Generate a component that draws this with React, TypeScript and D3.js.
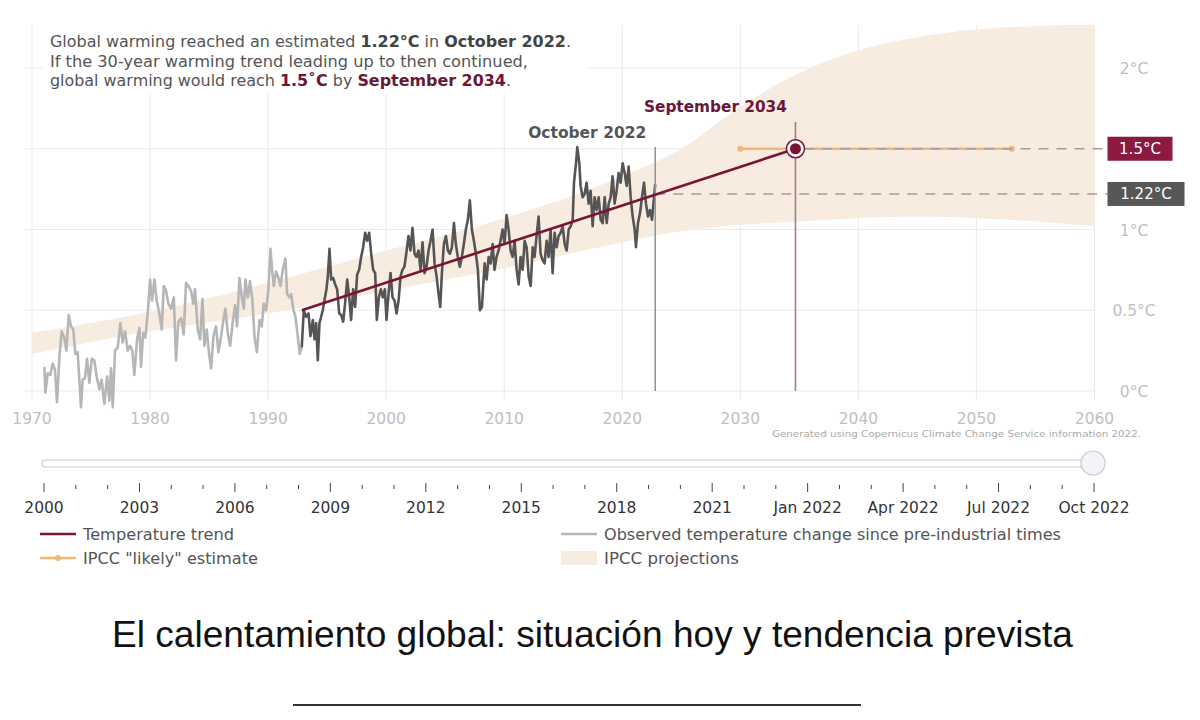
import React from "react";
import * as d3 from "d3";

// ---------- DATA ----------
const obsYears = [
  1971.05, 1971.13, 1971.33, 1971.55, 1971.75, 1971.95, 1972.12, 1972.32, 1972.51, 1972.74, 1972.91,
  1973.11, 1973.31, 1973.5, 1973.67, 1973.87, 1974.15, 1974.29, 1974.49, 1974.66, 1974.86,
  1975.06, 1975.28, 1975.48, 1975.71, 1975.9, 1976.13, 1976.36, 1976.55, 1976.69, 1976.84,
  1977.03, 1977.26, 1977.49, 1977.68, 1977.88, 1978.11, 1978.31, 1978.5, 1978.67, 1978.9,
  1979.1, 1979.24, 1979.41, 1979.6, 1979.8, 1980.0, 1980.17, 1980.37, 1980.56, 1980.79, 1980.99,
  1981.16, 1981.36, 1981.55, 1981.78, 1982.01, 1982.2, 1982.4, 1982.63, 1982.85,
  1983.05, 1983.25, 1983.47, 1983.67, 1983.81, 1984.04, 1984.24, 1984.44, 1984.6, 1984.8,
  1985.0, 1985.17, 1985.37, 1985.59, 1985.79, 1986.02, 1986.21, 1986.38, 1986.58, 1986.78,
  1987.01, 1987.2, 1987.37, 1987.57, 1987.77, 1987.94, 1988.08, 1988.28, 1988.47, 1988.67, 1988.84,
  1989.05, 1989.27, 1989.46, 1989.63, 1989.83, 1990.03, 1990.2, 1990.34, 1990.48, 1990.68, 1990.88,
  1991.05, 1991.24, 1991.47, 1991.61, 1991.81, 1991.95, 1992.15, 1992.32, 1992.51, 1992.68, 1992.85,
  1993.02, 1993.22, 1993.42, 1993.59, 1993.79, 1993.93, 1994.07, 1994.21, 1994.35, 1994.49, 1994.63, 1994.77, 1994.94,
  1995.06, 1995.2, 1995.34, 1995.51, 1995.68, 1995.85, 1996.02, 1996.19, 1996.36, 1996.53, 1996.7, 1996.87,
  1997.03, 1997.2, 1997.37, 1997.54, 1997.71, 1997.88, 1998.05, 1998.22, 1998.39, 1998.56, 1998.73, 1998.9,
  1999.07, 1999.21, 1999.38, 1999.55, 1999.72, 1999.89, 2000.03, 2000.2, 2000.37, 2000.54, 2000.71, 2000.88,
  2001.05, 2001.22, 2001.38, 2001.55, 2001.72, 2001.89, 2002.06, 2002.23, 2002.4, 2002.57, 2002.74, 2002.91,
  2003.08, 2003.25, 2003.42, 2003.59, 2003.76, 2003.93, 2004.1, 2004.27, 2004.44, 2004.58, 2004.72, 2004.89,
  2005.06, 2005.23, 2005.4, 2005.57, 2005.74, 2005.9, 2006.07, 2006.24, 2006.41, 2006.58, 2006.75, 2006.92,
  2007.09, 2007.26, 2007.43, 2007.6, 2007.77, 2007.94, 2008.11, 2008.34, 2008.51, 2008.68, 2008.85,
  2009.02, 2009.18, 2009.35, 2009.52, 2009.69, 2009.86, 2010.03, 2010.2, 2010.37, 2010.54, 2010.71, 2010.88,
  2011.05, 2011.22, 2011.39, 2011.56, 2011.73, 2011.9, 2012.07, 2012.24, 2012.41, 2012.57, 2012.74, 2012.91,
  2013.08, 2013.25, 2013.42, 2013.59, 2013.76, 2013.93, 2014.1, 2014.27, 2014.44, 2014.61, 2014.78, 2014.95,
  2015.12, 2015.29, 2015.46, 2015.63, 2015.8, 2015.91, 2016.08, 2016.19, 2016.36, 2016.47, 2016.64, 2016.81, 2016.98,
  2017.15, 2017.32, 2017.49, 2017.66, 2017.83, 2018.0, 2018.17, 2018.34, 2018.51, 2018.68, 2018.85,
  2019.02, 2019.18, 2019.35, 2019.52, 2019.69, 2019.86, 2020.03, 2020.2, 2020.37, 2020.54, 2020.71, 2020.88,
  2021.05, 2021.16, 2021.33, 2021.5, 2021.67, 2021.84, 2022.01, 2022.18, 2022.35, 2022.52, 2022.69, 2022.79,
];
const obsValues = [
  0.15, -0.01, 0.11, 0.1, 0.17, 0.13, -0.07, 0.21, 0.37, 0.33, 0.25,
  0.47, 0.4, 0.38, 0.23, 0.24, -0.1, 0.07, 0.08, 0.2, 0.05,
  0.2, 0.19, 0.09, 0.01, 0.07, -0.08, 0.09, -0.06, 0.14, -0.1,
  0.25, 0.27, 0.42, 0.3, 0.37, 0.25, 0.28, 0.25, 0.1, 0.32,
  0.39, 0.15, 0.36, 0.33, 0.48, 0.69, 0.56, 0.69, 0.56, 0.48, 0.38,
  0.65, 0.62, 0.54, 0.51, 0.58, 0.19, 0.43, 0.45, 0.35,
  0.67, 0.65, 0.62, 0.54, 0.63, 0.38, 0.32, 0.57, 0.28, 0.38,
  0.23, 0.14, 0.34, 0.4, 0.24, 0.34, 0.44, 0.51, 0.36, 0.28,
  0.43, 0.53, 0.4, 0.7, 0.58, 0.51, 0.69, 0.58, 0.68, 0.56, 0.34,
  0.24, 0.44, 0.4, 0.54, 0.5, 0.63, 0.88, 0.75, 0.65, 0.74, 0.7,
  0.65, 0.75, 0.82, 0.6, 0.58, 0.6, 0.5, 0.46, 0.34, 0.23, 0.27,
  0.5, 0.46, 0.48, 0.34, 0.44, 0.32, 0.42, 0.19, 0.42, 0.46, 0.5, 0.56, 0.63,
  0.71, 0.88, 0.69, 0.7, 0.66, 0.63, 0.48, 0.47, 0.43, 0.55, 0.69, 0.58,
  0.44, 0.63, 0.52, 0.72, 0.75, 0.83, 0.89, 0.98, 0.93, 0.98, 0.85, 0.75,
  0.73, 0.44, 0.58, 0.63, 0.58, 0.63, 0.44, 0.6, 0.73, 0.58, 0.56, 0.48,
  0.56, 0.71, 0.75, 0.77, 0.86, 0.96, 0.87, 1.01, 0.85, 0.83, 0.87, 0.75,
  0.92, 0.73, 0.77, 0.87, 0.93, 1.0, 0.79, 0.71, 0.6, 0.52, 0.73, 0.91,
  0.96, 0.87, 0.85, 0.89, 1.04, 0.91, 0.83, 0.77, 0.83, 0.91, 1.0, 1.06,
  1.18, 1.0, 0.93, 0.85, 0.75, 0.5, 0.52, 0.79, 0.69, 0.83, 0.79,
  0.91, 0.75, 0.83, 0.87, 0.93, 1.0, 0.91, 1.09, 1.0, 0.87, 0.83, 0.93,
  0.75, 0.66, 0.83, 0.75, 0.93, 0.89, 0.71, 0.65, 0.89, 0.83, 0.96, 1.08,
  0.85, 0.81, 0.79, 0.93, 0.83, 1.0, 0.73, 0.98, 0.89, 0.96, 0.98, 1.02,
  0.91, 0.87, 1.0, 1.02, 1.06, 1.29, 1.41, 1.51, 1.41, 1.27, 1.2, 1.22, 1.29,
  1.16, 1.24, 1.02, 1.2, 1.12, 1.2, 1.06, 1.04, 1.2, 1.04, 1.16,
  1.2, 1.33, 1.16, 1.24, 1.35, 1.29, 1.41, 1.35, 1.27, 1.39, 1.2, 1.08,
  1.0, 0.89, 1.04, 1.1, 1.2, 1.29, 1.16, 1.08, 1.12, 1.06, 1.2, 1.28,
];
const trendStartYear = 1992.85; // observed line turns dark from here
const trendYears = [1992.85, 2034.67];
const trendValues = [0.5, 1.5];

const bandYears = [1970, 1980, 1990, 2000, 2010, 2020, 2025, 2030, 2035, 2040, 2045, 2050, 2055, 2060];
const bandLow = [0.23, 0.37, 0.48, 0.62, 0.76, 0.92, 0.99, 1.03, 1.05, 1.07, 1.08, 1.07, 1.05, 1.02];
const bandHigh = [0.36, 0.49, 0.67, 0.87, 1.07, 1.33, 1.5, 1.76, 1.97, 2.11, 2.19, 2.24, 2.26, 2.27];

const likelyYears = [2030, 2053];
const likelyValue = 1.5;
const currentYear = 2022.79;
const currentValue = 1.22;
const crossYear = 2034.67;
const crossValue = 1.5;

const xTicks = [1970, 1980, 1990, 2000, 2010, 2020, 2030, 2040, 2050, 2060];
const yTicks = [0, 0.5, 1, 1.5, 2];
const yTickLabels = ["0°C", "0.5°C", "1°C", "", "2°C"];
const sliderLabels = ["2000", "2003", "2006", "2009", "2012", "2015", "2018", "2021", "Jan 2022", "Apr 2022", "Jul 2022", "Oct 2022"];

// ---------- STYLE ----------
const FONT = "'DejaVu Sans', Verdana, sans-serif";
const RED = "#7a1435";
const DARKRED_TXT = "#6a1838";
const GRAY_DARK = "#555555";
const GRAY_LIGHT = "#b6b6b6";
const BAND = "#f8ebe0";
const ORANGE = "#f2b878";

export default function App() {
  const x = d3.scaleLinear().domain([1970, 2060]).range([32, 1094.5]);
  const y = d3.scaleLinear().domain([0, 2]).range([391, 68]);

  const obs = obsYears.map((yr, i) => [yr, obsValues[i]] as [number, number]);
  const early = obs.filter((d) => d[0] <= trendStartYear);
  const late = obs.filter((d) => d[0] >= trendStartYear);
  const line = d3.line<[number, number]>().x((d) => x(d[0])).y((d) => y(d[1]));
  const band = d3
    .area<number>()
    .x((d, i) => x(bandYears[i]))
    .y0((d, i) => y(bandLow[i]))
    .y1((d, i) => y(bandHigh[i]))
    .curve(d3.curveMonotoneX);
  const trend = trendYears.map((yr, i) => [yr, trendValues[i]] as [number, number]);

  const sx = d3.scalePoint<string>().domain(sliderLabels).range([44, 1094]);
  const step = sx.step();
  const minorTicks: number[] = [];
  sliderLabels.slice(0, -1).forEach((l) => {
    const p = sx(l)!;
    minorTicks.push(p + step / 3, p + (2 * step) / 3);
  });

  const right = x(2060);
  const labelX = right + 13;

  return (
    <svg width={1200} height={720} style={{ position: "absolute", left: 0, top: 0, background: "#fff" }} fontFamily={FONT}>
      <defs>
        <clipPath id="plotClip">
          <rect x={0} y={25} width={right + 1} height={400} />
        </clipPath>
      </defs>
      {/* gridlines */}
      {xTicks.map((t) => (
        <line key={"gx" + t} x1={x(t)} x2={x(t)} y1={25} y2={400} stroke="#ebebeb" strokeWidth={1} />
      ))}
      {yTicks.map((t) => (
        <line key={"gy" + t} x1={25} x2={right} y1={y(t)} y2={y(t)} stroke="#ebebeb" strokeWidth={1} />
      ))}
      {/* band */}
      <path d={band(bandYears) || ""} fill={BAND} clipPath="url(#plotClip)" />

      {/* annotation box */}
      <rect x={43} y={26} width={543} height={68} fill="#fff" />
      <g fontSize={15} fill="#555">
        <text x={50} y={47} textLength={521} lengthAdjust="spacingAndGlyphs">
          Global warming reached an estimated <tspan fontWeight="bold" fill="#444">1.22°C</tspan> in{" "}
          <tspan fontWeight="bold" fill="#444">October 2022</tspan>.
        </text>
        <text x={50} y={67} textLength={478} lengthAdjust="spacingAndGlyphs">
          If the 30-year warming trend leading up to then continued,
        </text>
        <text x={50} y={86} textLength={461} lengthAdjust="spacingAndGlyphs">
          global warming would reach <tspan fontWeight="bold" fill={DARKRED_TXT}>1.5˚C</tspan> by{" "}
          <tspan fontWeight="bold" fill={DARKRED_TXT}>September 2034</tspan>.
        </text>
      </g>

      {/* axis labels */}
      {xTicks.map((t) => (
        <text key={"xl" + t} x={x(t)} y={424} textAnchor="middle" fontSize={15.5} fill="#c0c0c0">
          {t}
        </text>
      ))}
      {yTicks.map((t, i) =>
        yTickLabels[i] ? (
          <text key={"yl" + t} x={1134} y={y(t) + 6} textAnchor="middle" fontSize={15.5} fill="#c0c0c0">
            {yTickLabels[i]}
          </text>
        ) : null
      )}

      {/* observed */}
      <path d={line(early) || ""} fill="none" stroke={GRAY_LIGHT} strokeWidth={2.6} strokeLinejoin="round" />
      <path d={line(late) || ""} fill="none" stroke={GRAY_DARK} strokeWidth={2.6} strokeLinejoin="round" />

      {/* vertical markers */}
      <line x1={x(currentYear)} x2={x(currentYear)} y1={147} y2={y(0)} stroke="#8e98a4" strokeWidth={1.6} />
      <line x1={x(crossYear)} x2={x(crossYear)} y1={122} y2={y(0)} stroke="#a87c84" strokeWidth={1.6} />

      {/* IPCC likely */}
      <line x1={x(likelyYears[0])} x2={x(likelyYears[1])} y1={y(likelyValue)} y2={y(likelyValue)} stroke={ORANGE} strokeWidth={2.5} />
      {likelyYears.map((yr) => (
        <circle key={"lk" + yr} cx={x(yr)} cy={y(likelyValue)} r={3} fill={ORANGE} />
      ))}

      {/* dashed reference lines */}
      <line x1={x(currentYear)} x2={labelX} y1={y(currentValue)} y2={y(currentValue)} stroke="#a89a9a" strokeWidth={1.6} strokeDasharray="10,8" />
      <line x1={x(crossYear) + 9} x2={labelX} y1={y(crossValue)} y2={y(crossValue)} stroke="#a89a9a" strokeWidth={1.6} strokeDasharray="10,8" />

      {/* trend */}
      <path d={line(trend) || ""} fill="none" stroke={RED} strokeWidth={2.6} />
      <circle cx={x(crossYear)} cy={y(crossValue)} r={9} fill="#fff" stroke={RED} strokeWidth={1.5} />
      <circle cx={x(crossYear)} cy={y(crossValue)} r={5.5} fill={RED} />

      {/* labels */}
      <text x={x(currentYear) - 68} y={138} textAnchor="middle" fontSize={15} fontWeight="bold" fill="#555" textLength={118} lengthAdjust="spacingAndGlyphs">
        October 2022
      </text>
      <text x={x(crossYear) - 80} y={112} textAnchor="middle" fontSize={15} fontWeight="bold" fill={DARKRED_TXT} textLength={143} lengthAdjust="spacingAndGlyphs">
        September 2034
      </text>

      <rect x={labelX} y={y(crossValue) - 12} width={65} height={24} fill="#8c1a40" />
      <text x={labelX + 32.5} y={y(crossValue) + 5.5} textAnchor="middle" fontSize={15} fill="#fff">
        1.5°C
      </text>
      <rect x={labelX} y={y(currentValue) - 12} width={77} height={24} fill="#575757" />
      <text x={labelX + 38.5} y={y(currentValue) + 5.5} textAnchor="middle" fontSize={15} fill="#fff">
        1.22°C
      </text>

      <text x={1141} y={437} textAnchor="end" fontSize={9.5} fill="#aaa" textLength={369} lengthAdjust="spacingAndGlyphs">
        Generated using Copernicus Climate Change Service information 2022.
      </text>

      {/* slider */}
      <rect x={42} y={460} width={1052} height={7} rx={3.5} fill="#fff" stroke="#c9c9df" strokeWidth={1.2} />
      <circle cx={1093} cy={463} r={12} fill="#f4f4f8" stroke="#c8c8d6" strokeWidth={1.2} />
      {sliderLabels.map((l) => (
        <g key={"sl" + l}>
          <line x1={sx(l)} x2={sx(l)} y1={483} y2={492} stroke="#444" strokeWidth={1} />
          <text x={sx(l)} y={513} textAnchor="middle" fontSize={15.5} fill="#333">
            {l}
          </text>
        </g>
      ))}
      {minorTicks.map((p, i) => (
        <line key={"mt" + i} x1={p} x2={p} y1={485} y2={489} stroke="#444" strokeWidth={1} />
      ))}

      {/* legend */}
      <g fontSize={15} fill="#555">
        <line x1={40} x2={76} y1={534} y2={534} stroke={RED} strokeWidth={2.5} />
        <text x={83} y={539.5} textLength={151} lengthAdjust="spacingAndGlyphs">Temperature trend</text>
        <line x1={40} x2={76} y1={558} y2={558} stroke={ORANGE} strokeWidth={2.5} />
        <circle cx={58} cy={558} r={3} fill={ORANGE} />
        <text x={83} y={563.5} textLength={175} lengthAdjust="spacingAndGlyphs">IPCC "likely" estimate</text>
        <line x1={561} x2={597} y1={534} y2={534} stroke={GRAY_LIGHT} strokeWidth={2.5} />
        <text x={604} y={539.5} textLength={457} lengthAdjust="spacingAndGlyphs">Observed temperature change since pre-industrial times</text>
        <rect x={561} y={551} width={36} height={14} fill={BAND} />
        <text x={604} y={563.5} textLength={135} lengthAdjust="spacingAndGlyphs">IPCC projections</text>
      </g>

      {/* title */}
      <text x={592.5} y={647} textAnchor="middle" fontFamily="'Liberation Sans', Arial, sans-serif" fontSize={36} fill="#111" textLength={961} lengthAdjust="spacingAndGlyphs">
        El calentamiento global: situación hoy y tendencia prevista
      </text>
      <line x1={293} x2={861} y1={705} y2={705} stroke="#333" strokeWidth={2} />
    </svg>
  );
}
